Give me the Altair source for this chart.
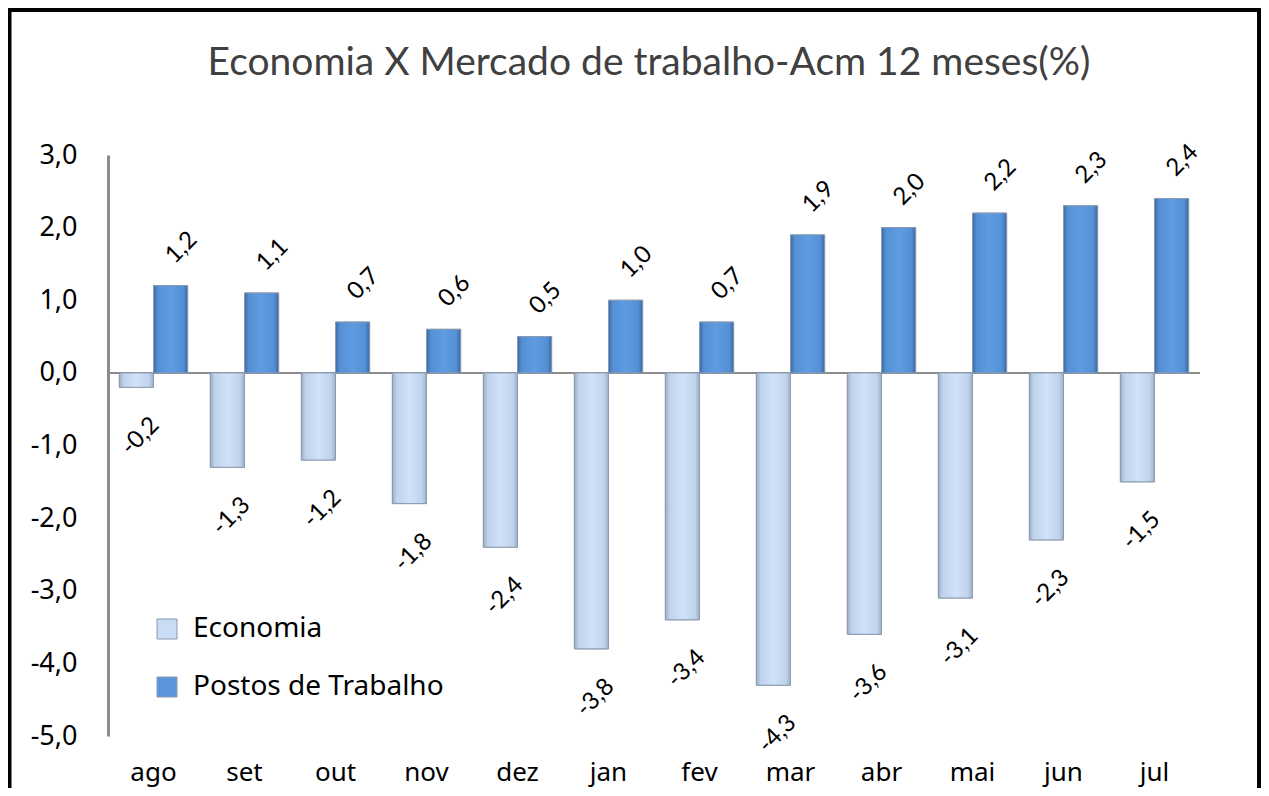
import altair as alt
import pandas as pd

# ---- data ----
months = ["ago", "set", "out", "nov", "dez", "jan", "fev", "mar", "abr", "mai", "jun", "jul"]
economia = [-0.2, -1.3, -1.2, -1.8, -2.4, -3.8, -3.4, -4.3, -3.6, -3.1, -2.3, -1.5]
postos = [1.2, 1.1, 0.7, 0.6, 0.5, 1.0, 0.7, 1.9, 2.0, 2.2, 2.3, 2.4]
series = ["Economia", "Postos de Trabalho"]
y_ticks = [-5, -4, -3, -2, -1, 0, 1, 2, 3]
title_text = "Economia X Mercado de trabalho-Acm 12 meses(%)"

# ---- styling ----
colors = ["#C9DCF4", "#5B96DA"]
edge = "#8A9AB0"

rows = []
for m, e, p in zip(months, economia, postos):
    rows.append({"mes": m, "serie": series[0], "valor": e})
    rows.append({"mes": m, "serie": series[1], "valor": p})
df = pd.DataFrame(rows)

fmt = "replace(replace(format(datum.valor, '.1f'), '.', ','), '\u2212', '-')"
axis_fmt = "replace(replace(format(datum.value, '.1f'), '.', ','), '\u2212', '-')"

x_enc = alt.X(
    "mes:N",
    sort=months,
    scale=alt.Scale(paddingInner=0.25, paddingOuter=0.125),
    axis=alt.Axis(
        title=None, labelAngle=0, domain=False, ticks=False,
        labelFont="Noto Sans", labelFontSize=26, labelColor="black",
        labelPadding=23,
    ),
)
xo_enc = alt.XOffset("serie:N", sort=series, scale=alt.Scale(paddingInner=0, paddingOuter=0))
y_enc = alt.Y(
    "valor:Q",
    scale=alt.Scale(domain=[-5, 3], nice=False, zero=False),
    axis=alt.Axis(
        title=None, values=y_ticks, labelExpr=axis_fmt, grid=False, ticks=False,
        domain=True, domainColor="#8C8C8C", domainWidth=3,
        labelFont="Noto Sans", labelFontSize=27, labelColor="black", labelPadding=31,
    ),
)

base = alt.Chart(df)

zero_rule = base.mark_rule(color="#8C8C8C", strokeWidth=2).encode(y=alt.datum(0))

bars = base.mark_bar(stroke=edge, strokeWidth=1).encode(
    x=x_enc,
    xOffset=xo_enc,
    y=y_enc,
    color=alt.Color(
        "serie:N",
        scale=alt.Scale(domain=series, range=colors),
        legend=alt.Legend(
            title=None, orient="none", legendX=45, legendY=460,
            symbolType="square", symbolSize=400, symbolStrokeColor=edge,
            symbolStrokeWidth=1, symbolOpacity=1,
            labelFont="Noto Sans", labelFontSize=28, labelColor="black",
            labelOffset=12, rowPadding=30, padding=0, labelLimit=500,
        ),
    ),
)


def grad(stops):
    return alt.LinearGradient(
        gradient="linear", x1=0, x2=1, y1=0, y2=0,
        stops=[alt.GradientStop(color=c, offset=o) for o, c in stops],
    )


grad_e = base.transform_filter(alt.datum.serie == series[0]).mark_bar(
    fill=grad([(0, "#9DAEC6"), (0.13, "#C0D3EC"), (0.5, "#D0E2F9"), (0.87, "#C0D3EC"), (1, "#9DAEC6")]),
    stroke=edge, strokeWidth=1,
).encode(x=x_enc, xOffset=xo_enc, y=y_enc)

grad_p = base.transform_filter(alt.datum.serie == series[1]).mark_bar(
    fill=grad([(0, "#3B6AA5"), (0.13, "#5590D4"), (0.5, "#5E9BE1"), (0.87, "#5590D4"), (1, "#3B6AA5")]),
    stroke=edge, strokeWidth=1,
).encode(x=x_enc, xOffset=xo_enc, y=y_enc)

txt_pos = base.transform_filter(alt.datum.valor >= 0).transform_calculate(lbl=fmt).mark_text(
    angle=315, align="center", baseline="middle", dx=34.6, dy=-19.1,
    font="Lato", fontSize=24, color="black",
).encode(x=x_enc, xOffset=xo_enc, y=y_enc, text="lbl:N")

txt_neg = base.transform_filter(alt.datum.valor < 0).transform_calculate(lbl=fmt).mark_text(
    angle=315, align="center", baseline="middle", dx=-31.8, dy=37.5,
    font="Lato", fontSize=24, color="black",
).encode(x=x_enc, xOffset=xo_enc, y=y_enc, text="lbl:N")

frame = alt.Chart(pd.DataFrame({"k": [0]})).mark_rect(
    filled=False, stroke="black", strokeWidth=4, clip=False
).encode(
    x=alt.value(-98.5), x2=alt.value(1151), y=alt.value(-145), y2=alt.value(700)
)

chart = alt.layer(zero_rule, bars, grad_e, grad_p, txt_pos, txt_neg, frame).properties(
    width=1092,
    height=581,
    padding={"left": 100, "top": 147, "right": 61, "bottom": 52},
    autosize=alt.AutoSizeParams(type="none"),
    title=alt.Title(
        text=title_text, font="Lato", fontSize=39, fontWeight="normal",
        color="#404040", anchor="middle", offset=-75, dx=-5,
    ),
).configure_view(stroke=None)

chart.save("out.html", embed_options={"renderer": "svg", "actions": False})
